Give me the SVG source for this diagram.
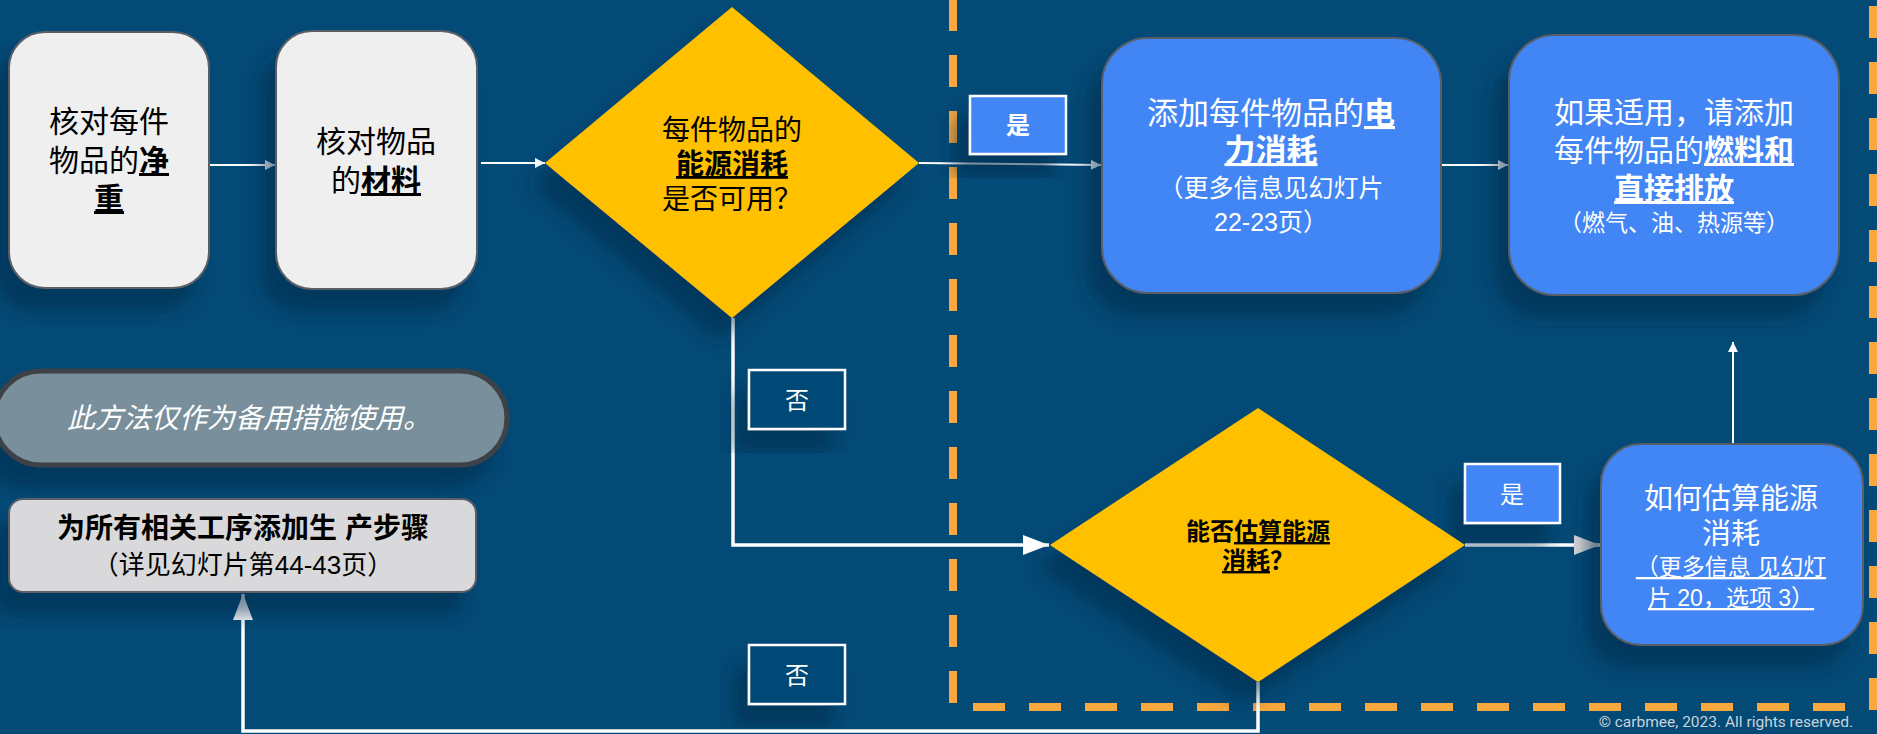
<svg xmlns="http://www.w3.org/2000/svg" width="1877" height="734" viewBox="0 0 1877 734">
<defs>
<style>
text{font-family:"Liberation Sans","Noto Sans CJK SC",sans-serif;text-anchor:middle}
.w{fill:#ffffff}
.k{fill:#000000}
.b{font-weight:bold}
.u{text-decoration:underline}
.f30{font-size:30px}
.f28{font-size:28px}
.f24{font-size:24px}
.f23{font-size:23px}
.thin{stroke:#ffffff;stroke-width:2;fill:none}
.thick{stroke:#ffffff;stroke-width:3.5;fill:none}
.dash{stroke:#f9a83d;stroke-width:8;stroke-dasharray:32 24;fill:none}
.lbl{stroke:#ffffff;stroke-width:2.5}
</style>
<filter id="sh" x="-30%" y="-30%" width="160%" height="170%">
<feDropShadow dx="-14" dy="22" stdDeviation="9" flood-color="#012a47" flood-opacity="0.55"/>
</filter>
<marker id="as" viewBox="0 0 10 10" refX="10" refY="5" markerWidth="10" markerHeight="10" markerUnits="userSpaceOnUse" orient="auto">
<path d="M0,0 L10,5 L0,10 z" fill="#ffffff"/>
</marker>
<marker id="al" viewBox="0 0 26 20" refX="26" refY="10" markerWidth="26" markerHeight="20" markerUnits="userSpaceOnUse" orient="auto">
<path d="M0,0 L26,10 L0,20 z" fill="#ffffff"/>
</marker>
<marker id="ag" viewBox="0 0 26 20" refX="26" refY="10" markerWidth="26" markerHeight="20" markerUnits="userSpaceOnUse" orient="auto">
<path d="M0,0 L26,10 L0,20 z" fill="#d9d9d9"/>
</marker>
</defs>
<rect x="0" y="0" width="1877" height="734" fill="#034a76"/>

<g id="frame">
<line class="dash" x1="953" y1="-1" x2="953" y2="706"/>
<line class="dash" x1="973" y1="707" x2="1850" y2="707"/>
<line class="dash" x1="1873" y1="710" x2="1873" y2="0"/>
</g>

<g id="connectors">
<line class="thin" x1="210" y1="165" x2="275" y2="165" marker-end="url(#as)"/>
<line class="thin" x1="481" y1="163" x2="545" y2="163" marker-end="url(#as)"/>
<line class="thin" x1="919" y1="163" x2="1101" y2="165" marker-end="url(#as)"/>
<line class="thin" x1="1442" y1="165" x2="1508" y2="165" marker-end="url(#as)"/>
<line class="thin" x1="1733" y1="444" x2="1733" y2="342" marker-end="url(#as)"/>
<polyline class="thick" points="733,318 733,545 1049,545" marker-end="url(#al)"/>
<line class="thick" x1="1465" y1="545" x2="1600" y2="545" marker-end="url(#ag)"/>
<polyline class="thick" points="1258,682 1258,731 243,731 243,594" marker-end="url(#al)"/>
</g>

<g id="n-netweight">
<rect x="9" y="32" width="200" height="256" rx="36" fill="#efefef" stroke="#5a5f66" stroke-width="2" filter="url(#sh)"/>
<text class="k f30" x="109" y="132">核对每件</text>
<text class="k f30" x="109" y="171">物品的<tspan class="b u">净</tspan></text>
<text class="k f30 b u" x="109" y="209">重</text>
</g>

<g id="n-material">
<rect x="276" y="31" width="201" height="258" rx="36" fill="#efefef" stroke="#5a5f66" stroke-width="2" filter="url(#sh)"/>
<text class="k f30" x="376" y="152">核对物品</text>
<text class="k f30" x="376" y="191">的<tspan class="b u">材料</tspan></text>
</g>

<g id="n-decision1">
<polygon points="545,163 732,7 919,163 732,318" fill="#ffc000" filter="url(#sh)"/>
<text class="k f28" x="732" y="140">每件物品的</text>
<text class="k f28 b u" x="732" y="174">能源消耗 </text>
<text class="k f28" x="732" y="209">是否可用？</text>
</g>

<g id="l-yes1">
<rect class="lbl" x="970" y="96" width="96" height="58" fill="#4285f4" filter="url(#sh)"/>
<text class="w f24 b" x="1018" y="134">是</text>
</g>

<g id="l-no1">
<rect class="lbl" x="749" y="370" width="96" height="59" fill="#034a76" filter="url(#sh)"/>
<text class="w f24" x="797" y="409">否</text>
</g>

<g id="l-no2">
<rect class="lbl" x="749" y="645" width="96" height="59" fill="#034a76" filter="url(#sh)"/>
<text class="w f24" x="797" y="684">否</text>
</g>

<g id="l-yes2">
<rect class="lbl" x="1465" y="464" width="95" height="59" fill="#4285f4" filter="url(#sh)"/>
<text class="w f24" x="1512" y="503">是</text>
</g>

<g id="n-electricity">
<rect x="1102" y="38" width="339" height="255" rx="46" fill="#4285f4" stroke="#5a5f66" stroke-width="2" filter="url(#sh)"/>
<text class="w" style="font-size:31px" x="1271" y="124">添加每件物品的<tspan class="b u">电</tspan></text>
<text class="w b u" style="font-size:31px" x="1271" y="161">力消耗</text>
<text class="w" style="font-size:25px" x="1271" y="197">（更多信息见幻灯片</text>
<text class="w" style="font-size:25px" x="1271" y="231">22-23页）</text>
</g>

<g id="n-fuel">
<rect x="1509" y="35" width="330" height="260" rx="46" fill="#4285f4" stroke="#5a5f66" stroke-width="2" filter="url(#sh)"/>
<text class="w f30" x="1674" y="123">如果适用，请添加</text>
<text class="w f30" x="1674" y="161">每件物品的<tspan class="b u">燃料和</tspan></text>
<text class="w f30 b u" x="1674" y="199">直接排放</text>
<text class="w f23" x="1674" y="231">（燃气、油、热源等）</text>
</g>

<g id="n-decision2">
<polygon points="1050,545 1258,408 1465,545 1258,682" fill="#ffc000" filter="url(#sh)"/>
<text class="k f24 b" x="1258" y="540">能否<tspan class="u">估算能源</tspan></text>
<text class="k f24 b" x="1258" y="569"><tspan class="u">消耗</tspan>？</text>
</g>

<g id="n-estimate">
<rect x="1601" y="444" width="262" height="201" rx="40" fill="#4285f4" stroke="#5a5f66" stroke-width="2" filter="url(#sh)"/>
<text class="w" style="font-size:29px" x="1731" y="509">如何估算能源</text>
<text class="w" style="font-size:29px" x="1731" y="544">消耗</text>
<text class="w f23 u" x="1731" y="575">（更多信息 见幻灯</text>
<text class="w f23 u" x="1731" y="606">片 20，选项 3）</text>
</g>

<g id="n-fallback">
<rect x="-6" y="371" width="513" height="94" rx="47" fill="#798f9b" stroke="#3d4348" stroke-width="5" filter="url(#sh)"/>
<text class="w f28" style="font-style:italic" x="249" y="428">此方法仅作为备用措施使用。</text>
</g>

<g id="n-process">
<rect x="9" y="499" width="467" height="93" rx="14" fill="#d9d9db" stroke="#5a5f66" stroke-width="2" filter="url(#sh)"/>
<text class="k f28 b" x="243" y="538">为所有相关工序添加生 产步骤</text>
<text class="k" style="font-size:26px" x="243" y="574">（详见幻灯片第44-43页）</text>
</g>

<text x="1853" y="727" style="font-family:Roboto,'Liberation Sans',sans-serif;font-size:15.5px;text-anchor:end;fill:#c9d3dc">© carbmee, 2023. All rights reserved.</text>
</svg>
